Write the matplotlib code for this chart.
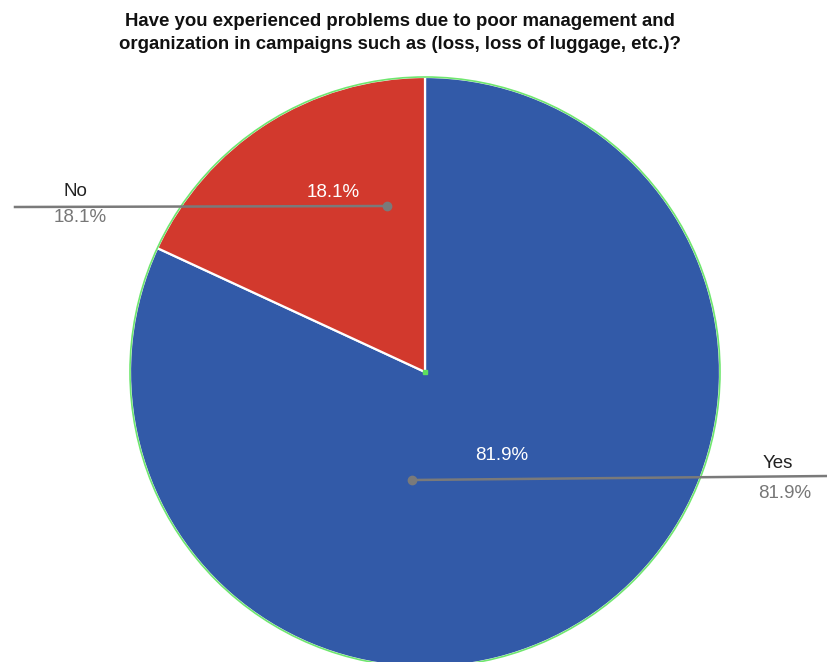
import matplotlib
matplotlib.use("Agg")
import matplotlib.pyplot as plt
from matplotlib.patches import Circle

plt.rcParams['font.family'] = ['Liberation Sans', 'DejaVu Sans']

title = ("Have you experienced problems due to poor management and\n"
         "organization in campaigns such as (loss, loss of luggage, etc.)?")
labels = ["Yes", "No"]
shares = [81.9, 18.1]
colors = ["#325aa8", "#d2392d"]

W, H = 828, 662
fig = plt.figure(figsize=(W / 100, H / 100), dpi=100)
ax = fig.add_axes([0, 0, 1, 1])

cx, cy, r = 425, H - 372, 295

wedges, _ = ax.pie(shares, colors=colors, startangle=90, counterclock=False,
                   center=(cx, cy), radius=r, frame=True,
                   wedgeprops=dict(edgecolor="white", linewidth=1.6))
ax.set_xlim(0, W)
ax.set_ylim(0, H)
ax.axis("off")
ax.add_patch(Circle((cx, cy), r, fill=False, edgecolor="#6fe66f", linewidth=1.2, zorder=5))
ax.plot([cx], [cy], "s", color="#5ee05e", markersize=3, zorder=6)

# leader lines: dot, far end, inner label, outer name and outer percent positions
lead = {
    "No": dict(dot=(387, H - 206), end=(15, H - 207), inner=(333, H - 193),
               name=(75, H - 192), pct=(80, H - 218)),
    "Yes": dict(dot=(412, H - 480), end=(828, H - 476), inner=(502, H - 455),
                name=(778, H - 464), pct=(785, H - 494)),
}
for lab, val in zip(labels, shares):
    d = lead[lab]
    ax.plot([d["dot"][0], d["end"][0]], [d["dot"][1], d["end"][1]],
            color="#7a7a7a", linewidth=1.8, zorder=7)
    ax.plot(*d["dot"], "o", color="#7a7a7a", markersize=6, zorder=7)
    ax.text(*d["inner"], f"{val}%", color="white", fontsize=13.5,
            ha="center", va="center", zorder=8)
    ax.text(*d["name"], lab, color="#222222", fontsize=13.5,
            ha="center", va="center", zorder=8)
    ax.text(*d["pct"], f"{val}%", color="#777777", fontsize=13.5,
            ha="center", va="center", zorder=8)

ax.text(400, H - 33, title, ha="center", va="center", fontsize=13.4,
        fontweight="bold", color="#111111", linespacing=1.45)

fig.savefig("out.png", dpi=100)
